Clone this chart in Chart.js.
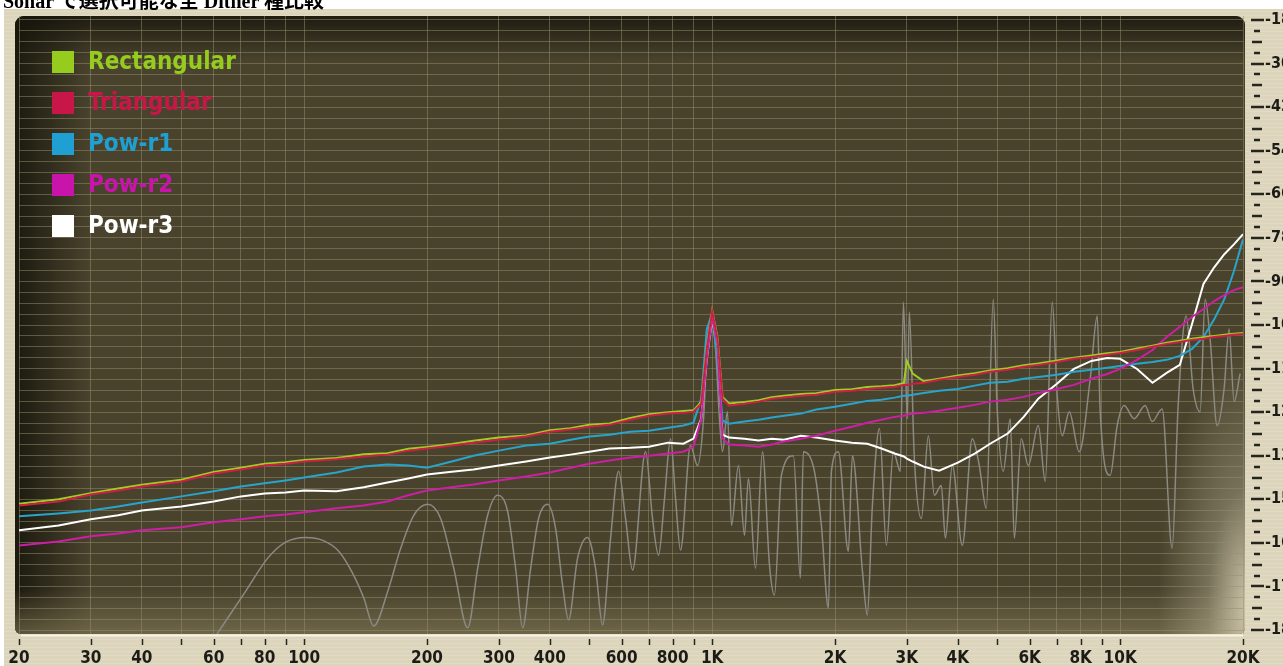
<!DOCTYPE html>
<html>
<head>
<meta charset="utf-8">
<script src="https://cdn.jsdelivr.net/npm/chart.js@4.4.1/dist/chart.umd.min.js"></script>
<style>
    body { margin: 0; background: #fff; overflow: hidden; }
    #wrap { position: relative; width: 1283px; height: 666px; }
    #title {
        position: absolute; left: 3px; top: -9px; z-index: 2;
        font: bold 20px/20px 'Liberation Serif', 'Noto Sans CJK JP', serif;
        color: #000; white-space: nowrap;
    }
    canvas { position: absolute; left: 0; top: 0; }
</style>
</head>
<body>
<div id="wrap">
    <div id="title">Sonar で選択可能な全 Dither 種比較</div>
    <canvas id="ditherChart" width="1283" height="666"></canvas>
</div>
<script>
// frequency points (Hz) shared by the five dither curves
const freqs = [20, 25, 30, 35, 40, 50, 60, 70, 80, 90, 100, 120, 140, 160, 180, 200, 230, 260, 300, 350,
    400, 450, 500, 560, 630, 700, 780, 850, 900, 940, 970, 1000, 1030, 1060, 1100, 1200, 1300, 1400, 1500, 1650,
    1800, 2000, 2200, 2400, 2600, 2800, 2950, 3000, 3100, 3300, 3600, 4000, 4400, 4800, 5300, 5800, 6300, 7000, 7700, 8500,
    9300, 10000, 11000, 12000, 13000, 14000, 15000, 16000, 17000, 18000, 19000, 20000];

// levels in dB
const rectangular = [-151.2, -150.0, -148.3, -147.0, -146.0, -144.6, -142.5, -141.3, -140.2, -139.8,
    -139.2, -138.6, -137.6, -137.3, -136.1, -135.6, -134.8, -133.9, -133.0, -132.4,
    -131.0, -130.4, -129.5, -129.1, -127.6, -126.6, -126.0, -125.7, -125.5, -123.2,
    -108.0, -98.0, -105.4, -121.8, -123.6, -123.2, -122.7, -121.9, -121.5, -121.0,
    -120.8, -119.9, -119.7, -119.1, -118.9, -118.6, -118.0, -111.9, -115.4, -117.5,
    -116.8, -115.9, -115.3, -114.5, -113.9, -113.1, -112.6, -111.8, -111.0, -110.4,
    -109.8, -109.4, -108.5, -107.7, -106.9, -106.3, -105.8, -105.4, -105.0, -104.7,
    -104.4, -104.2];

const triangular = [-151.7, -150.6, -148.7, -147.6, -146.5, -145.1, -142.9, -141.8, -140.7, -140.2,
    -139.6, -139.0, -138.2, -137.7, -136.6, -136.0, -135.2, -134.4, -133.6, -132.7,
    -131.4, -130.8, -130.0, -129.5, -128.1, -127.0, -126.4, -126.2, -125.9, -123.7,
    -108.6, -98.2, -105.8, -122.3, -124.2, -123.7, -123.1, -122.3, -122.0, -121.5,
    -121.2, -120.4, -120.1, -119.6, -119.3, -119.0, -118.5, -118.5, -118.2, -117.9,
    -117.1, -116.3, -115.7, -114.9, -114.3, -113.5, -113.0, -112.2, -111.3, -110.8,
    -110.2, -109.7, -108.9, -108.0, -107.2, -106.7, -106.1, -105.8, -105.3, -105.0,
    -104.7, -104.5];

const powR1 = [-154.7, -153.9, -153.1, -152.0, -150.9, -149.2, -147.8, -146.5, -145.6, -144.8,
    -144.0, -142.6, -141.0, -140.4, -140.7, -141.3, -139.6, -138.0, -136.6, -135.2,
    -134.7, -133.6, -132.7, -132.2, -131.4, -131.1, -130.3, -129.7, -128.9, -122.3,
    -103.1, -99.0, -111.3, -128.3, -129.2, -128.6, -128.1, -127.5, -127.0, -126.4,
    -125.3, -124.5, -123.7, -122.9, -122.6, -122.0, -121.5, -121.5, -121.2, -120.7,
    -120.1, -119.6, -118.7, -117.9, -117.6, -116.8, -116.3, -115.7, -114.9, -114.3,
    -113.8, -113.3, -112.7, -112.2, -111.6, -110.5, -108.6, -105.3, -100.4, -94.9,
    -87.2, -78.4];

const powR2 = [-162.7, -161.6, -160.2, -159.4, -158.5, -157.7, -156.3, -155.5, -154.7, -154.2,
    -153.6, -152.5, -151.7, -150.6, -148.9, -147.6, -146.7, -145.9, -144.8, -143.7,
    -142.6, -141.3, -140.2, -139.3, -138.5, -138.0, -137.4, -136.9, -135.5, -127.8,
    -111.3, -99.8, -107.2, -133.3, -134.9, -135.2, -135.5, -134.9, -134.1, -133.3,
    -132.5, -131.1, -130.0, -128.9, -128.1, -127.3, -127.0, -126.7, -126.4, -126.2,
    -125.6, -124.8, -124.0, -123.1, -122.6, -121.8, -120.7, -119.6, -118.5, -116.8,
    -115.5, -114.1, -111.6, -108.9, -105.3, -102.5, -99.8, -97.6, -95.4, -93.8,
    -92.4, -91.6];

const powR3 = [-158.5, -157.2, -155.5, -154.4, -153.1, -152.0, -150.6, -149.2, -148.4, -148.1,
    -147.6, -147.8, -146.7, -145.4, -144.3, -143.2, -142.4, -141.8, -140.7, -139.6,
    -138.5, -137.7, -136.9, -136.0, -135.8, -135.5, -134.4, -134.7, -133.3, -127.8,
    -111.3, -100.3, -108.6, -132.2, -133.0, -133.3, -133.8, -133.3, -133.6, -132.5,
    -133.0, -133.8, -134.4, -134.7, -136.0, -137.4, -138.2, -138.8, -139.6, -141.0,
    -142.1, -139.9, -137.4, -134.7, -131.9, -127.3, -122.3, -118.2, -114.1, -111.9,
    -111.1, -111.3, -114.1, -117.9, -115.2, -113.0, -101.7, -90.7, -86.1, -82.5,
    -79.8, -77.0];

// the grey reference trace (no legend entry)
const greyFreqs = [60.8, 71.9, 81.4, 90.1, 100.9, 111.1, 121.5, 131.5, 140.0,
    148.1, 160.3, 172.4, 185.6, 200.8, 216.0, 232.6, 251.6, 266.2, 281.6,
    298.0, 315.2, 329.8, 343.2, 359.0, 375.4, 395.0, 413.2, 429.8, 444.6,
    467.8, 495.0, 517.8, 538.6, 563.6, 589.6, 613.4, 638.0, 686.6, 714.2,
    738.8, 764.2, 790.6, 813.2, 836.4, 884.8, 920.6, 952.4, 974, 996,
    1019, 1042, 1060, 1090, 1115, 1160, 1200, 1227, 1277, 1328,
    1382, 1421, 1478, 1582, 1645, 1673, 1781, 1852, 1927, 1960,
    2038, 2157, 2206, 2335, 2400, 2470, 2570, 2673, 2780, 2892,
    2942, 3008, 3042, 3130, 3256, 3387, 3504, 3644, 3728, 3878,
    4102, 4340, 4515, 4698, 4886, 4998, 5170, 5378, 5502, 5722,
    5952, 6300, 6552, 6816, 7010, 7212, 7502, 7936, 8446, 8786,
    8934, 9452, 9832, 10228, 10822, 11514, 11978, 12672, 13408, 13870,
    14510, 15094, 15704, 16152, 16612, 17282, 17976, 18490, 19020, 19676];

const greyLevels = [-187.5, -175.3, -166.2, -161.8, -160.5, -161.3, -164.3, -170.4, -177.2,
    -184.9, -175.3, -163.5, -154.4, -151.4, -155.3, -169.0, -185.4, -169.0, -154.4,
    -148.9, -153.3, -169.0, -185.4, -169.0, -155.3, -151.4, -158.0, -173.6, -183.2,
    -166.2, -160.5, -169.0, -184.6, -160.7, -142.3, -155.3, -169.5, -136.9, -155.3,
    -165.4, -149.8, -133.3, -149.8, -164.0, -135.2, -140.7, -127.8, -105.8, -99.3,
    -108.6, -127.8, -136.9, -125.9, -157.2, -140.7, -159.9, -144.3, -169.0, -136.9,
    -168.2, -176.4, -143.4, -138.0, -171.7, -136.9, -142.3, -157.2, -180.0, -142.3,
    -136.9, -164.3, -138.0, -169.8, -181.9, -151.7, -130.5, -162.7, -136.9, -142.3,
    -95.7, -127.8, -98.4, -138.8, -155.3, -132.5, -148.9, -146.2, -160.7, -140.7,
    -162.7, -133.3, -140.7, -152.5, -94.9, -125.9, -142.3, -127.8, -160.7, -133.3,
    -140.7, -129.7, -145.1, -95.7, -121.5, -132.5, -125.9, -136.9, -116.8, -99.5,
    -125.9, -143.4, -129.7, -124.2, -127.8, -124.2, -128.6, -125.1, -163.5, -124.2,
    -99.5, -119.6, -125.9, -94.9, -105.8, -129.7, -119.6, -103.1, -123.1, -115.4];

// axis ticks and labels
const freqTicks = [20, 30, 40, 50, 60, 70, 80, 90, 100, 200, 300, 400, 500, 600, 700, 800, 900,
    1000, 2000, 3000, 4000, 5000, 6000, 7000, 8000, 9000, 10000, 20000];
const freqLabelValues = [20, 30, 40, 60, 80, 100, 200, 300, 400, 600, 800, 1000, 2000, 3000, 4000, 6000, 8000, 10000, 20000];
const freqLabelTexts = ['20', '30', '40', '60', '80', '100', '200', '300', '400', '600', '800',
    '1K', '2K', '3K', '4K', '6K', '8K', '10K', '20K'];
const dbLabels = [-18, -30, -42, -54, -66, -78, -90, -102, -114, -126, -138, -150, -162, -174, -186];

const narrowFont = "'Liberation Sans Narrow', 'DejaVu Sans Condensed', sans-serif";

function pairs(xs, ys) {
    return xs.map((f, i) => ({ x: f, y: ys[i] }));
}

// keep the plot box exactly where the panel is (no label overhang padding)
function fixBox(scale, size) {
    if (scale.isHorizontal()) scale.height = size;
    else scale.width = size;
    scale.paddingTop = 0;
    scale.paddingBottom = 0;
    scale.paddingLeft = 0;
    scale.paddingRight = 0;
}

// olive panel with vignette, drawn under the grid
const panelBackground = {
    id: 'panelBackground',
    beforeDraw(chart) {
        const { ctx, chartArea: a, width, height } = chart;
        ctx.save();
        ctx.fillStyle = '#ffffff';
        ctx.fillRect(0, 0, width, height);
        ctx.fillStyle = '#dcd5bb';
        ctx.fillRect(4, 9, width - 4, height - 9);
        ctx.fillStyle = 'rgba(255,255,255,0.16)';
        for (let y = 11; y < height; y += 4) ctx.fillRect(4, y, width, 1);

        const left = a.left - 4, top = a.top, w = a.right + 2 - left, h = a.bottom - a.top;
        ctx.beginPath();
        ctx.roundRect(left, top, w, h, [9, 9, 6, 6]);
        ctx.clip();
        ctx.fillStyle = 'rgb(73,67,45)';
        ctx.fillRect(left, top, w, h);

        let g = ctx.createLinearGradient(0, top, 0, top + 45);
        g.addColorStop(0, 'rgba(20,18,10,0.8)');
        g.addColorStop(1, 'rgba(20,18,10,0)');
        ctx.fillStyle = g;
        ctx.fillRect(left, top, w, 45);

        g = ctx.createLinearGradient(left, 0, left + 75, 0);
        g.addColorStop(0, 'rgba(20,18,10,0.85)');
        g.addColorStop(1, 'rgba(20,18,10,0)');
        ctx.fillStyle = g;
        ctx.fillRect(left, top, 75, h);

        g = ctx.createLinearGradient(0, a.bottom - 45, 0, a.bottom);
        g.addColorStop(0, 'rgba(135,125,90,0)');
        g.addColorStop(1, 'rgba(135,125,90,0.6)');
        ctx.fillStyle = g;
        ctx.fillRect(left, a.bottom - 45, w, 45);

        ctx.translate(a.right + 6, a.bottom - 30);
        ctx.scale(0.35, 1);
        g = ctx.createRadialGradient(0, 0, 0, 0, 0, 260);
        g.addColorStop(0, 'rgba(228,220,192,0.85)');
        g.addColorStop(0.45, 'rgba(228,220,192,0.3)');
        g.addColorStop(1, 'rgba(228,220,192,0)');
        ctx.fillStyle = g;
        ctx.fillRect(-300, -300, 600, 600);
        ctx.restore();

        ctx.save();
        ctx.strokeStyle = 'rgba(250,246,232,0.9)';
        ctx.lineWidth = 2;
        ctx.beginPath();
        ctx.moveTo(left + 6, a.bottom + 1.5);
        ctx.lineTo(a.right, a.bottom + 1.5);
        ctx.stroke();
        ctx.restore();
    }
};

// dash marks next to the tick labels
const axisMarks = {
    id: 'axisMarks',
    afterDraw(chart) {
        const { ctx, chartArea: a, scales } = chart;
        ctx.save();
        ctx.strokeStyle = '#25241d';
        ctx.lineWidth = 1.5;
        scales.x.ticks.forEach((t) => {
            const px = Math.round(scales.x.getPixelForValue(t.value)) + 0.5;
            ctx.beginPath();
            ctx.moveTo(px, a.bottom + 5);
            ctx.lineTo(px, a.bottom + 11);
            ctx.stroke();
        });
        ctx.lineWidth = 2.5;
        scales.y.ticks.forEach((t) => {
            const py = Math.round(scales.y.getPixelForValue(t.value));
            const step = Math.round(-18 - t.value);
            let x0 = a.right + 11, x1 = a.right + 17;
            if (step % 12 === 0) { x0 = a.right + 8; x1 = a.right + 21; }
            else if (step % 6 === 0) { x0 = a.right + 9; x1 = a.right + 19; }
            ctx.beginPath();
            ctx.moveTo(x0, py);
            ctx.lineTo(x1, py);
            ctx.stroke();
        });
        ctx.restore();
    }
};

// legend box in the top-left corner of the panel
const panelLegend = {
    id: 'panelLegend',
    afterDatasetsDraw(chart) {
        const { ctx, chartArea: a } = chart;
        ctx.save();
        ctx.font = 'bold 24px ' + narrowFont;
        ctx.textBaseline = 'middle';
        let row = 0;
        chart.data.datasets.forEach((ds) => {
            if (!ds.label) return;
            const cy = a.top + 46 + row * 41;
            ctx.fillStyle = ds.legendColor;
            ctx.fillRect(a.left + 33, cy - 11, 22, 22);
            ctx.fillText(ds.label, a.left + 69, cy + 1);
            row++;
        });
        ctx.restore();
    }
};

const ctx = document.getElementById('ditherChart').getContext('2d');

const ditherChart = new Chart(ctx, {
    type: 'line',
    data: {
        datasets: [
            {
                label: 'Rectangular',
                data: pairs(freqs, rectangular),
                borderColor: 'rgb(160,205,35)',
                legendColor: 'rgb(150,204,30)',
                borderWidth: 2,
                order: 1,
            },
            {
                label: 'Triangular',
                data: pairs(freqs, triangular),
                borderColor: 'rgb(205,30,70)',
                legendColor: 'rgb(200,22,72)',
                borderWidth: 2,
                order: 0,
            },
            {
                label: 'Pow-r1',
                data: pairs(freqs, powR1),
                borderColor: 'rgb(40,165,205)',
                legendColor: 'rgb(32,160,210)',
                borderWidth: 2,
                order: 3,
            },
            {
                label: 'Pow-r2',
                data: pairs(freqs, powR2),
                borderColor: 'rgb(205,30,165)',
                legendColor: 'rgb(200,20,170)',
                borderWidth: 2,
                order: 2,
            },
            {
                label: 'Pow-r3',
                data: pairs(freqs, powR3),
                borderColor: '#ffffff',
                legendColor: '#ffffff',
                borderWidth: 2,
                order: 4,
            },
            {
                label: '',
                data: pairs(greyFreqs, greyLevels),
                borderColor: 'rgb(138,137,130)',
                borderWidth: 1.5,
                cubicInterpolationMode: 'monotone',
                order: 5,
            },
        ],
    },
    options: {
        responsive: false,
        animation: false,
        layout: { padding: { left: 19, top: 16, right: 0, bottom: 0 } },
        elements: { point: { radius: 0 }, line: { tension: 0 } },
        plugins: {
            legend: { display: false },
            tooltip: { enabled: false },
            title: { display: false },
        },
        scales: {
            x: {
                type: 'logarithmic',
                min: 20,
                max: 20000,
                afterBuildTicks: (scale) => {
                    scale.ticks = freqTicks.map((v) => ({ value: v }));
                },
                afterFit: (scale) => fixBox(scale, 32),
                grid: { color: 'rgba(150,142,105,0.5)', lineWidth: 1, drawTicks: false },
                border: { display: false },
                ticks: {
                    autoSkip: false,
                    maxRotation: 0,
                    padding: 14,
                    color: '#1c1b16',
                    font: { family: narrowFont, size: 17, weight: 'bold' },
                    callback: (value) => {
                        const i = freqLabelValues.indexOf(value);
                        return i >= 0 ? freqLabelTexts[i] : '';
                    },
                },
            },
            y: {
                type: 'linear',
                position: 'right',
                min: -187.1,
                max: -16.9,
                afterBuildTicks: (scale) => {
                    const ticks = [];
                    for (let v = -186; v <= -18; v += 3) ticks.push({ value: v });
                    scale.ticks = ticks;
                },
                afterFit: (scale) => fixBox(scale, 40),
                grid: { color: 'rgba(150,142,105,0.5)', lineWidth: 1, drawTicks: false },
                border: { display: false },
                ticks: {
                    autoSkip: false,
                    padding: 22,
                    color: '#1c1b16',
                    font: { family: narrowFont, size: 16, weight: 'bold' },
                    callback: (value) => (dbLabels.includes(value) ? String(value) : ''),
                },
            },
        },
    },
    plugins: [panelBackground, axisMarks, panelLegend],
});
</script>
</body>
</html>
